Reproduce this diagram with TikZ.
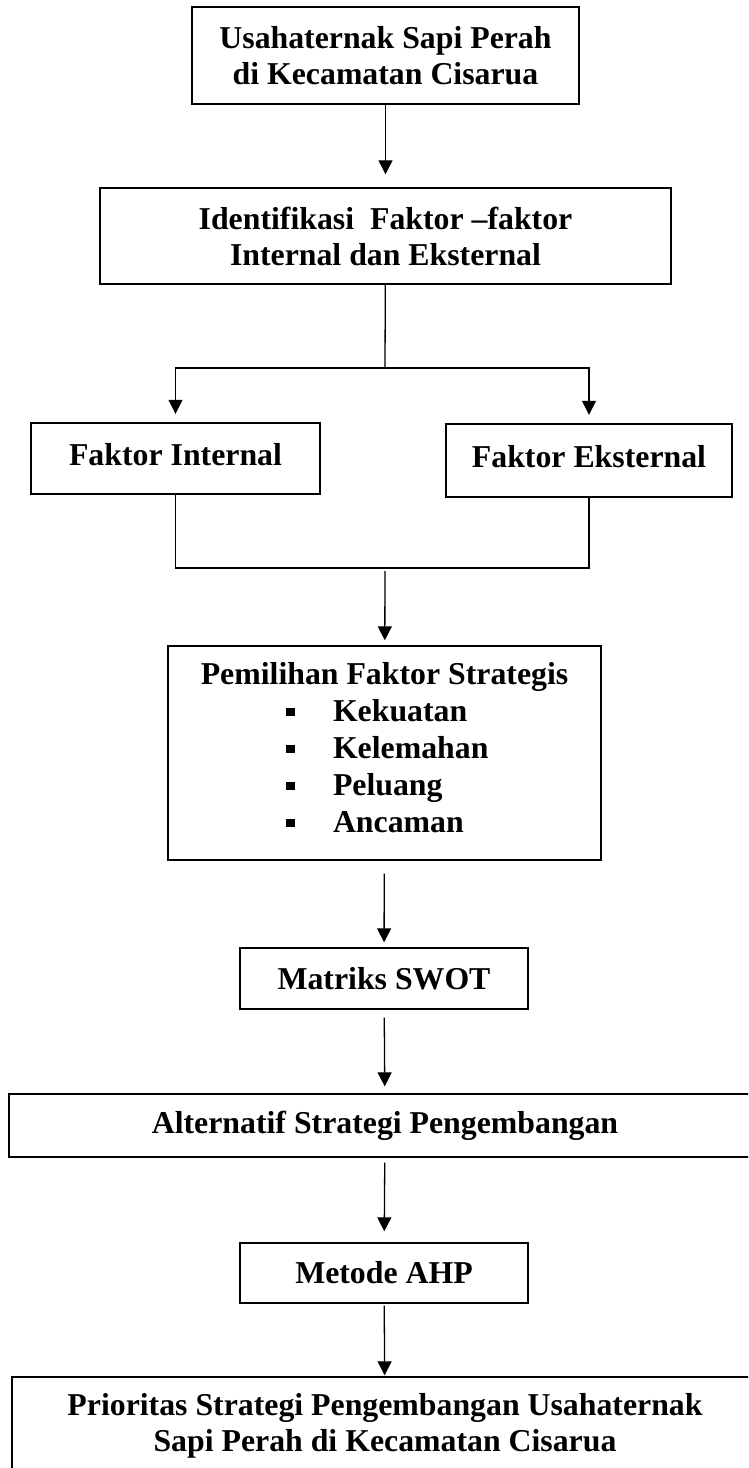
\documentclass[tikz,border=0pt]{standalone}
\usepackage{fontspec}
\setmainfont{Liberation Serif}
\usepackage{tikz}
\usetikzlibrary{arrows.meta}
\newcommand{\butir}[1]{\makebox[250pt][l]{\hspace*{26.5pt}\rule[5pt]{8.5pt}{8.5pt}\hspace*{38.5pt}#1}}

\begin{document}
\begin{tikzpicture}[box/.style={draw=black, line width=1.4pt, inner sep=0pt, align=center, font=\bfseries\fontsize{31.8pt}{36pt}\selectfont},
arr/.style={line width=1.3pt, color=black, -{Triangle[length=14pt, width=14pt]}}]
\useasboundingbox (0pt, 0pt) rectangle (748pt, -1468pt);
\clip (0pt, 0pt) rectangle (748pt, -1468pt);
\node (1) [box, minimum width=387pt, minimum height=97pt] at (385.5pt, -55.5pt) {Usahaternak Sapi Perah\\di Kecamatan Cisarua};
\node (2) [box, minimum width=571pt, minimum height=96pt] at (385.5pt, -236.0pt) {Identifikasi\ \ Faktor –faktor\\Internal dan Eksternal};
\node (3) [box, text depth=8pt, minimum width=289pt, minimum height=71pt] at (175.5pt, -458.5pt) {Faktor Internal};
\node (4) [box, text depth=8pt, minimum width=286pt, minimum height=73pt] at (589.0pt, -460.5pt) {Faktor Eksternal};
\node (5) [box, text depth=12pt, font=\bfseries\fontsize{31.8pt}{37pt}\selectfont, minimum width=433pt, minimum height=214pt] at (384.5pt, -753.0pt) {Pemilihan Faktor Strategis\\\butir{Kekuatan}\\\butir{Kelemahan}\\\butir{Peluang}\\\butir{Ancaman}};
\node (6) [box, minimum width=288pt, minimum height=61pt] at (384.0pt, -978.5pt) {Matriks SWOT};
\node (7) [box, minimum width=752pt, minimum height=63pt] at (385.0pt, -1125.5pt) {Alternatif Strategi Pengembangan};
\node (8) [box, minimum width=288pt, minimum height=60pt] at (384.0pt, -1273.0pt) {Metode AHP};
\node (9) [box, minimum width=746pt, minimum height=97pt] at (385.0pt, -1425.5pt) {Prioritas Strategi Pengembangan Usahaternak\\Sapi Perah di Kecamatan Cisarua};
\coordinate (10) at (385.0pt, -368.0pt);
\coordinate (11) at (385.0pt, -568.0pt);
\draw [arr, shorten >=13pt] (1) to (2);
\draw [line width=1.3pt, color=black] (2) to (10);
\draw [arr, shorten >=8.5pt] (10) -| (3.north);
\draw [arr, shorten >=8.5pt] (10) -| (4.north);
\draw [line width=1.3pt, color=black] (3.south) |- (11) -| (4.south);
\draw [arr, shorten <=3pt, shorten >=5pt] (11) to (5);
\draw [arr, shorten <=13pt, shorten >=5pt] (5) to (6);
\draw [arr, shorten <=8pt, shorten >=7pt] (6) to (7);
\draw [arr, shorten <=5pt, shorten >=11pt] (7) to (8);
\draw [arr, shorten <=2pt, shorten >=1pt] (8) to (9);
\end{tikzpicture}
\end{document}
